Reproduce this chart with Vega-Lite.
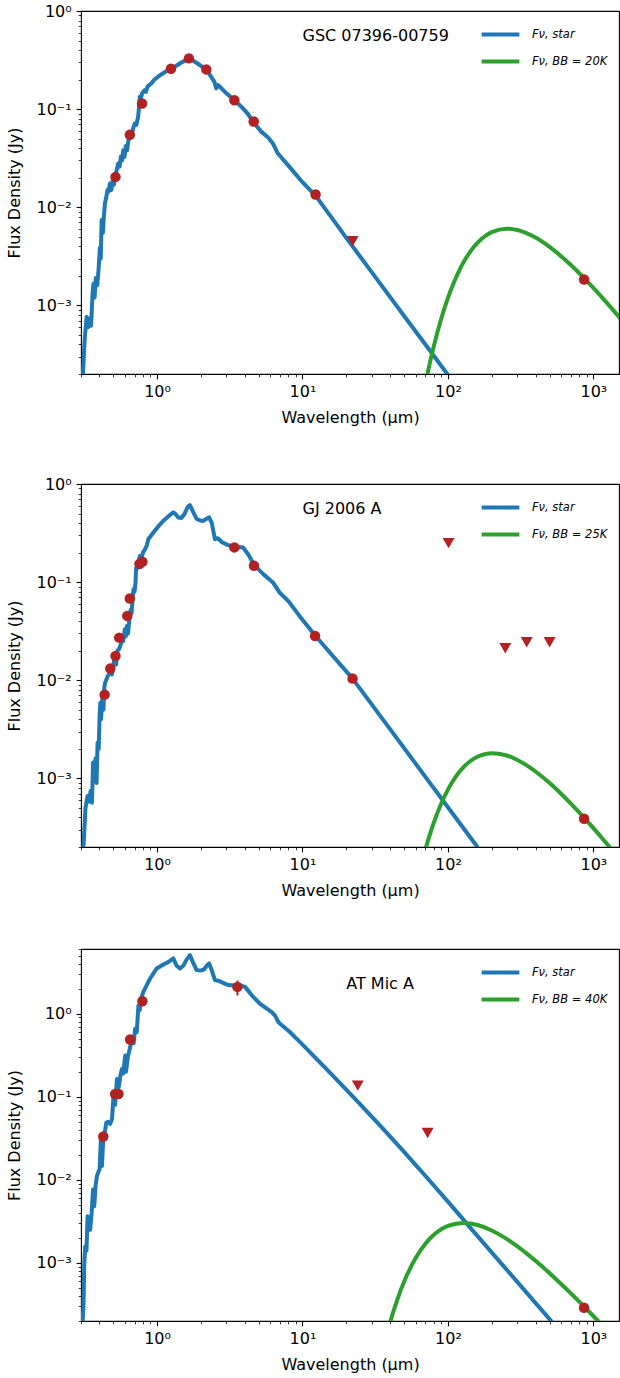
{
  "$schema": "https://vega.github.io/schema/vega-lite/v6.json",
  "padding": {"left": 6, "top": 2, "right": 0, "bottom": 0},
  "spacing": 48,
  "resolve": {"scale": {"color": "independent"}, "legend": {"color": "independent"}},
  "config": {
    "font": "DejaVu Sans",
    "view": {"stroke": "black", "strokeWidth": 1.1},
    "axis": {"grid": false, "domain": false, "tickColor": "black", "labelColor": "black", "titleColor": "black",
             "labelFont": "DejaVu Sans", "titleFont": "DejaVu Sans", "labelFontSize": 16, "titleFontSize": 16,
             "titleFontWeight": "normal", "tickWidth": 1.1, "labelPadding": 4.9},
    "axisX": {"titlePadding": 10},
    "axisY": {"titlePadding": 13},
    "legend": {"labelFont": "DejaVu Sans", "labelFontSize": 11.5, "labelFontStyle": "italic", "labelColor": "black",
               "symbolType": "M-1.4,0H1.4", "symbolSize": 725, "symbolStrokeWidth": 4, "orient": "none", "legendX": 404, "legendY": 8,
               "padding": 0, "rowPadding": 3, "labelOffset": 16}
  },
  "datasets": {
    "star": [
      {"p":1,"wl":0.305,"flux":0.00013},{"p":1,"wl":0.318,"flux":0.00045},{"p":1,"wl":0.328,"flux":0.00076},{"p":1,"wl":0.336,"flux":0.0006},
      {"p":1,"wl":0.345,"flux":0.00074},{"p":1,"wl":0.352,"flux":0.00062},{"p":1,"wl":0.36,"flux":0.0013},{"p":1,"wl":0.365,"flux":0.00166},
      {"p":1,"wl":0.372,"flux":0.0012},{"p":1,"wl":0.379,"flux":0.0019},{"p":1,"wl":0.388,"flux":0.0016},{"p":1,"wl":0.396,"flux":0.0023},
      {"p":1,"wl":0.405,"flux":0.0039},{"p":1,"wl":0.41,"flux":0.003},{"p":1,"wl":0.416,"flux":0.0074},{"p":1,"wl":0.424,"flux":0.0055},
      {"p":1,"wl":0.432,"flux":0.0085},{"p":1,"wl":0.438,"flux":0.0109},{"p":1,"wl":0.447,"flux":0.0125},{"p":1,"wl":0.456,"flux":0.015},
      {"p":1,"wl":0.465,"flux":0.0145},{"p":1,"wl":0.474,"flux":0.0175},{"p":1,"wl":0.485,"flux":0.015},{"p":1,"wl":0.494,"flux":0.0185},
      {"p":1,"wl":0.505,"flux":0.017},{"p":1,"wl":0.515,"flux":0.0205},{"p":1,"wl":0.528,"flux":0.024},{"p":1,"wl":0.541,"flux":0.0279},
      {"p":1,"wl":0.553,"flux":0.026},{"p":1,"wl":0.565,"flux":0.033},{"p":1,"wl":0.575,"flux":0.03},{"p":1,"wl":0.585,"flux":0.038},
      {"p":1,"wl":0.597,"flux":0.0326},{"p":1,"wl":0.61,"flux":0.042},{"p":1,"wl":0.622,"flux":0.038},{"p":1,"wl":0.635,"flux":0.048},
      {"p":1,"wl":0.65,"flux":0.052},{"p":1,"wl":0.667,"flux":0.052},{"p":1,"wl":0.685,"flux":0.064},{"p":1,"wl":0.703,"flux":0.0714},
      {"p":1,"wl":0.72,"flux":0.069},{"p":1,"wl":0.741,"flux":0.0835},{"p":1,"wl":0.752,"flux":0.105},{"p":1,"wl":0.761,"flux":0.134},
      {"p":1,"wl":0.775,"flux":0.13},{"p":1,"wl":0.79,"flux":0.145},{"p":1,"wl":0.805,"flux":0.15},{"p":1,"wl":0.824,"flux":0.156},
      {"p":1,"wl":0.84,"flux":0.15},{"p":1,"wl":0.86,"flux":0.17},{"p":1,"wl":0.914,"flux":0.183},{"p":1,"wl":0.96,"flux":0.2},
      {"p":1,"wl":1.016,"flux":0.214},{"p":1,"wl":1.1,"flux":0.232},{"p":1,"wl":1.18,"flux":0.248},{"p":1,"wl":1.247,"flux":0.258},
      {"p":1,"wl":1.35,"flux":0.275},{"p":1,"wl":1.45,"flux":0.295},{"p":1,"wl":1.56,"flux":0.312},{"p":1,"wl":1.656,"flux":0.33},
      {"p":1,"wl":1.75,"flux":0.315},{"p":1,"wl":1.91,"flux":0.29},{"p":1,"wl":2.05,"flux":0.27},{"p":1,"wl":2.2,"flux":0.252},
      {"p":1,"wl":2.35,"flux":0.214},{"p":1,"wl":2.48,"flux":0.19},{"p":1,"wl":2.55,"flux":0.163},{"p":1,"wl":2.62,"flux":0.176},
      {"p":1,"wl":2.75,"flux":0.165},{"p":1,"wl":3.0,"flux":0.145},{"p":1,"wl":3.4,"flux":0.123},{"p":1,"wl":3.8,"flux":0.106},
      {"p":1,"wl":4.2,"flux":0.09},{"p":1,"wl":4.62,"flux":0.073},{"p":1,"wl":5.2,"flux":0.059},{"p":1,"wl":5.8,"flux":0.0515},
      {"p":1,"wl":6.26,"flux":0.0447},{"p":1,"wl":6.77,"flux":0.0353},{"p":1,"wl":8.0,"flux":0.0266},{"p":1,"wl":10.0,"flux":0.018},
      {"p":1,"wl":12.4,"flux":0.0129},{"p":1,"wl":16.0,"flux":0.0077},{"p":1,"wl":20.0,"flux":0.00488},{"p":1,"wl":30.0,"flux":0.00217},
      {"p":1,"wl":50.0,"flux":0.000781},{"p":1,"wl":70.0,"flux":0.000399},{"p":1,"wl":110.0,"flux":0.000162},

      {"p":2,"wl":0.305,"flux":0.00013},{"p":2,"wl":0.313,"flux":0.00022},{"p":2,"wl":0.322,"flux":0.0005},{"p":2,"wl":0.333,"flux":0.00066},
      {"p":2,"wl":0.34,"flux":0.00058},{"p":2,"wl":0.35,"flux":0.00075},{"p":2,"wl":0.357,"flux":0.000565},{"p":2,"wl":0.363,"flux":0.00145},
      {"p":2,"wl":0.37,"flux":0.0011},{"p":2,"wl":0.378,"flux":0.0016},{"p":2,"wl":0.384,"flux":0.0009},{"p":2,"wl":0.39,"flux":0.00231},
      {"p":2,"wl":0.397,"flux":0.002},{"p":2,"wl":0.403,"flux":0.0045},{"p":2,"wl":0.407,"flux":0.0059},{"p":2,"wl":0.412,"flux":0.004},
      {"p":2,"wl":0.42,"flux":0.0065},{"p":2,"wl":0.428,"flux":0.005},{"p":2,"wl":0.434,"flux":0.0085},{"p":2,"wl":0.44,"flux":0.0095},
      {"p":2,"wl":0.458,"flux":0.011},{"p":2,"wl":0.476,"flux":0.012},{"p":2,"wl":0.49,"flux":0.0115},{"p":2,"wl":0.503,"flux":0.015},
      {"p":2,"wl":0.515,"flux":0.0177},{"p":2,"wl":0.523,"flux":0.0145},{"p":2,"wl":0.535,"flux":0.02},{"p":2,"wl":0.55,"flux":0.021},
      {"p":2,"wl":0.562,"flux":0.023},{"p":2,"wl":0.573,"flux":0.0262},{"p":2,"wl":0.585,"flux":0.025},{"p":2,"wl":0.6,"flux":0.033},
      {"p":2,"wl":0.61,"flux":0.028},{"p":2,"wl":0.62,"flux":0.0358},{"p":2,"wl":0.632,"flux":0.03},{"p":2,"wl":0.645,"flux":0.042},
      {"p":2,"wl":0.658,"flux":0.052},{"p":2,"wl":0.668,"flux":0.048},{"p":2,"wl":0.68,"flux":0.07},{"p":2,"wl":0.689,"flux":0.0849},
      {"p":2,"wl":0.7,"flux":0.08},{"p":2,"wl":0.71,"flux":0.095},{"p":2,"wl":0.718,"flux":0.14},{"p":2,"wl":0.726,"flux":0.136},
      {"p":2,"wl":0.74,"flux":0.16},{"p":2,"wl":0.765,"flux":0.186},{"p":2,"wl":0.78,"flux":0.17},{"p":2,"wl":0.8,"flux":0.2},
      {"p":2,"wl":0.825,"flux":0.215},{"p":2,"wl":0.85,"flux":0.235},{"p":2,"wl":0.872,"flux":0.275},{"p":2,"wl":0.944,"flux":0.321},
      {"p":2,"wl":1.02,"flux":0.37},{"p":2,"wl":1.105,"flux":0.422},{"p":2,"wl":1.2,"flux":0.47},{"p":2,"wl":1.294,"flux":0.514},
      {"p":2,"wl":1.33,"flux":0.5},{"p":2,"wl":1.4,"flux":0.455},{"p":2,"wl":1.47,"flux":0.45},{"p":2,"wl":1.55,"flux":0.5},
      {"p":2,"wl":1.62,"flux":0.58},{"p":2,"wl":1.682,"flux":0.61},{"p":2,"wl":1.75,"flux":0.54},{"p":2,"wl":1.87,"flux":0.44},
      {"p":2,"wl":1.98,"flux":0.425},{"p":2,"wl":2.08,"flux":0.42},{"p":2,"wl":2.2,"flux":0.445},{"p":2,"wl":2.28,"flux":0.457},
      {"p":2,"wl":2.38,"flux":0.4},{"p":2,"wl":2.5,"flux":0.275},{"p":2,"wl":2.62,"flux":0.28},{"p":2,"wl":2.8,"flux":0.255},
      {"p":2,"wl":3.05,"flux":0.24},{"p":2,"wl":3.33,"flux":0.231},{"p":2,"wl":3.65,"flux":0.228},{"p":2,"wl":3.9,"flux":0.226},
      {"p":2,"wl":4.25,"flux":0.19},{"p":2,"wl":4.69,"flux":0.147},{"p":2,"wl":5.4,"flux":0.12},{"p":2,"wl":6.26,"flux":0.0993},
      {"p":2,"wl":6.95,"flux":0.0785},{"p":2,"wl":8.0,"flux":0.064},{"p":2,"wl":9.53,"flux":0.0453},{"p":2,"wl":12.3,"flux":0.0283},
      {"p":2,"wl":16.0,"flux":0.018},{"p":2,"wl":22.1,"flux":0.0104},{"p":2,"wl":40.0,"flux":0.003175},{"p":2,"wl":70.0,"flux":0.001037},
      {"p":2,"wl":100.0,"flux":0.000508},{"p":2,"wl":175.0,"flux":0.000166},

      {"p":3,"wl":0.305,"flux":0.00015},{"p":3,"wl":0.312,"flux":0.0003},{"p":3,"wl":0.316,"flux":0.001},{"p":3,"wl":0.321,"flux":0.00158},
      {"p":3,"wl":0.327,"flux":0.0014},{"p":3,"wl":0.333,"flux":0.00364},{"p":3,"wl":0.34,"flux":0.0029},{"p":3,"wl":0.347,"flux":0.00251},
      {"p":3,"wl":0.355,"flux":0.004},{"p":3,"wl":0.363,"flux":0.00765},{"p":3,"wl":0.37,"flux":0.0048},{"p":3,"wl":0.378,"flux":0.0085},
      {"p":3,"wl":0.386,"flux":0.0111},{"p":3,"wl":0.395,"flux":0.0125},{"p":3,"wl":0.403,"flux":0.0134},{"p":3,"wl":0.411,"flux":0.0308},
      {"p":3,"wl":0.418,"flux":0.0147},{"p":3,"wl":0.426,"flux":0.03},{"p":3,"wl":0.44,"flux":0.04},{"p":3,"wl":0.448,"flux":0.049},
      {"p":3,"wl":0.46,"flux":0.05},{"p":3,"wl":0.475,"flux":0.047},{"p":3,"wl":0.49,"flux":0.0537},{"p":3,"wl":0.502,"flux":0.103},
      {"p":3,"wl":0.515,"flux":0.08},{"p":3,"wl":0.53,"flux":0.164},{"p":3,"wl":0.545,"flux":0.13},{"p":3,"wl":0.56,"flux":0.18},
      {"p":3,"wl":0.573,"flux":0.216},{"p":3,"wl":0.585,"flux":0.19},{"p":3,"wl":0.604,"flux":0.313},{"p":3,"wl":0.612,"flux":0.2},
      {"p":3,"wl":0.63,"flux":0.3},{"p":3,"wl":0.65,"flux":0.38},{"p":3,"wl":0.671,"flux":0.499},{"p":3,"wl":0.69,"flux":0.44},
      {"p":3,"wl":0.707,"flux":0.659},{"p":3,"wl":0.725,"flux":0.6},{"p":3,"wl":0.745,"flux":1.26},{"p":3,"wl":0.76,"flux":1.1},
      {"p":3,"wl":0.78,"flux":1.55},{"p":3,"wl":0.805,"flux":1.83},{"p":3,"wl":0.85,"flux":2.2},{"p":3,"wl":0.896,"flux":2.65},
      {"p":3,"wl":0.995,"flux":3.5},{"p":3,"wl":1.105,"flux":3.91},{"p":3,"wl":1.2,"flux":4.2},{"p":3,"wl":1.294,"flux":4.62},
      {"p":3,"wl":1.36,"flux":3.8},{"p":3,"wl":1.438,"flux":3.5},{"p":3,"wl":1.52,"flux":3.8},{"p":3,"wl":1.6,"flux":4.5},
      {"p":3,"wl":1.682,"flux":5.07},{"p":3,"wl":1.76,"flux":4.2},{"p":3,"wl":1.87,"flux":3.34},{"p":3,"wl":1.98,"flux":3.3},
      {"p":3,"wl":2.1,"flux":3.4},{"p":3,"wl":2.2,"flux":3.8},{"p":3,"wl":2.28,"flux":4.02},{"p":3,"wl":2.38,"flux":3.3},
      {"p":3,"wl":2.5,"flux":2.53},{"p":3,"wl":2.7,"flux":2.45},{"p":3,"wl":3.0,"flux":2.25},{"p":3,"wl":3.16,"flux":2.2},
      {"p":3,"wl":3.7,"flux":2.2},{"p":3,"wl":4.03,"flux":2.1},{"p":3,"wl":4.57,"flux":1.6},{"p":3,"wl":5.11,"flux":1.31},
      {"p":3,"wl":6.15,"flux":1.04},{"p":3,"wl":6.48,"flux":0.946},{"p":3,"wl":6.83,"flux":0.788},{"p":3,"wl":8.22,"flux":0.597},
      {"p":3,"wl":9.89,"flux":0.432},{"p":3,"wl":11.6,"flux":0.325},{"p":3,"wl":15.5,"flux":0.194},{"p":3,"wl":23.6,"flux":0.0897},
      {"p":3,"wl":34.2,"flux":0.0448},{"p":3,"wl":49.4,"flux":0.0221},{"p":3,"wl":71.6,"flux":0.01067},{"p":3,"wl":103.5,"flux":0.0051},
      {"p":3,"wl":149.7,"flux":0.0024},{"p":3,"wl":540.0,"flux":0.00018}
    ],
    "bb": [
      {"p":1,"wl":68,"flux":0.000128},{"p":1,"wl":72,"flux":0.0001945},{"p":1,"wl":80,"flux":0.000385},{"p":1,"wl":90,"flux":0.000735},
      {"p":1,"wl":100,"flux":0.001192},{"p":1,"wl":110,"flux":0.001724},{"p":1,"wl":120,"flux":0.002293},{"p":1,"wl":130,"flux":0.002863},
      {"p":1,"wl":150,"flux":0.003915},{"p":1,"wl":170,"flux":0.004758},{"p":1,"wl":200,"flux":0.005587},{"p":1,"wl":255,"flux":0.006055},
      {"p":1,"wl":300,"flux":0.005874},{"p":1,"wl":400,"flux":0.004917},{"p":1,"wl":500,"flux":0.003946},{"p":1,"wl":700,"flux":0.002577},
      {"p":1,"wl":900,"flux":0.001777},{"p":1,"wl":1200,"flux":0.001118},{"p":1,"wl":1600,"flux":0.000682},

      {"p":2,"wl":65,"flux":0.0001259},{"p":2,"wl":70,"flux":0.0001898},{"p":2,"wl":80,"flux":0.0003555},{"p":2,"wl":90,"flux":0.0005559},
      {"p":2,"wl":100,"flux":0.000769},{"p":2,"wl":110,"flux":0.000977},{"p":2,"wl":120,"flux":0.001167},{"p":2,"wl":130,"flux":0.001333},
      {"p":2,"wl":150,"flux":0.001581},{"p":2,"wl":170,"flux":0.001728},{"p":2,"wl":200,"flux":0.001805},{"p":2,"wl":250,"flux":0.001723},
      {"p":2,"wl":300,"flux":0.001543},{"p":2,"wl":400,"flux":0.001176},{"p":2,"wl":500,"flux":0.000896},{"p":2,"wl":700,"flux":0.000553},
      {"p":2,"wl":900,"flux":0.000371},{"p":2,"wl":1200,"flux":0.0002276},{"p":2,"wl":1400,"flux":0.0001735},

      {"p":3,"wl":36,"flux":0.0000973},{"p":3,"wl":40,"flux":0.0001926},{"p":3,"wl":45,"flux":0.0003676},{"p":3,"wl":50,"flux":0.0005962},
      {"p":3,"wl":55,"flux":0.000862},{"p":3,"wl":60,"flux":0.001146},{"p":3,"wl":70,"flux":0.001705},{"p":3,"wl":80,"flux":0.002183},
      {"p":3,"wl":90,"flux":0.002546},{"p":3,"wl":100,"flux":0.002793},{"p":3,"wl":128,"flux":0.003028},{"p":3,"wl":160,"flux":0.002857},
      {"p":3,"wl":200,"flux":0.002458},{"p":3,"wl":250,"flux":0.001973},{"p":3,"wl":300,"flux":0.001585},{"p":3,"wl":400,"flux":0.001063},
      {"p":3,"wl":500,"flux":0.000753},{"p":3,"wl":700,"flux":0.00043},{"p":3,"wl":900,"flux":0.0002768},{"p":3,"wl":1200,"flux":0.0001641}
    ],
    "det": [
      {"p":1,"wl":0.518,"flux":0.0204},{"p":1,"wl":0.65,"flux":0.0547},{"p":1,"wl":0.789,"flux":0.114},{"p":1,"wl":1.247,"flux":0.258},
      {"p":1,"wl":1.656,"flux":0.329},{"p":1,"wl":2.18,"flux":0.254},{"p":1,"wl":3.4,"flux":0.123},{"p":1,"wl":4.62,"flux":0.0748},
      {"p":1,"wl":12.3,"flux":0.0135},{"p":1,"wl":863,"flux":0.00184},
      {"p":2,"wl":0.436,"flux":0.00714},{"p":2,"wl":0.477,"flux":0.0132},{"p":2,"wl":0.518,"flux":0.0177},{"p":2,"wl":0.549,"flux":0.0272},
      {"p":2,"wl":0.624,"flux":0.0453},{"p":2,"wl":0.65,"flux":0.068},{"p":2,"wl":0.757,"flux":0.153},{"p":2,"wl":0.793,"flux":0.161},
      {"p":2,"wl":3.4,"flux":0.226},{"p":2,"wl":4.64,"flux":0.147},{"p":2,"wl":12.2,"flux":0.0283},{"p":2,"wl":22.1,"flux":0.0104},
      {"p":2,"wl":863,"flux":0.000388},
      {"p":3,"wl":0.427,"flux":0.0332},{"p":3,"wl":0.515,"flux":0.108},{"p":3,"wl":0.543,"flux":0.108},{"p":3,"wl":0.653,"flux":0.489},
      {"p":3,"wl":0.793,"flux":1.41},{"p":3,"wl":3.57,"flux":2.1},{"p":3,"wl":863,"flux":0.000289}
    ],
    "ul": [
      {"p":1,"wl":22.1,"flux":0.0045},
      {"p":2,"wl":101,"flux":0.25},{"p":2,"wl":248,"flux":0.0212},{"p":2,"wl":348,"flux":0.0244},{"p":2,"wl":500,"flux":0.0244},
      {"p":3,"wl":24.0,"flux":0.136},{"p":3,"wl":72.5,"flux":0.0366}
    ],
    "err": [
      {"p":3,"wl":3.57,"lo":1.66,"hi":2.5}
    ],
    "lab": [
      {"p":1,"wl":10,"flux":0.5,"text":"GSC 07396-00759"},
      {"p":2,"wl":10,"flux":0.5,"text":"GJ 2006 A"},
      {"p":3,"wl":20,"flux":2,"text":"AT Mic A"}
    ]
  },
  "vconcat": [
    {
      "width": 538, "height": 363,
      "resolve": {"axis": {"x": "independent", "y": "independent"}},
      "layer": [
        {"data": {"name": "star"}, "transform": [{"filter": "datum.p == 1"}],
         "mark": {"type": "line", "clip": true, "strokeWidth": 4, "strokeJoin": "round"},
         "encoding": {
           "x": {"field": "wl", "type": "quantitative", "scale": {"type": "log", "domain": [0.3, 1500], "nice": false},
                 "axis": {"orient": "bottom", "values": [1, 10, 100, 1000], "tickSize": 4.9, "title": "Wavelength (μm)",
                          "labelExpr": "datum.value >= 500 ? '10³' : datum.value >= 50 ? '10²' : datum.value >= 5 ? '10¹' : '10⁰'"}},
           "y": {"field": "flux", "type": "quantitative", "scale": {"type": "log", "domain": [0.0002, 1], "nice": false},
                 "axis": {"orient": "left", "values": [0.001, 0.01, 0.1, 1], "tickSize": 4.9, "title": "Flux Density (Jy)",
                          "labelExpr": "datum.value >= 0.5 ? '10⁰' : datum.value >= 0.05 ? '10⁻¹' : datum.value >= 0.005 ? '10⁻²' : '10⁻³'"}},
           "color": {"datum": "Fν, star", "type": "nominal",
                     "scale": {"domain": ["Fν, star", "Fν, BB = 20K"], "range": ["#1f77b4", "#2ca02c"]},
                     "legend": {"title": null}}
         }},
        {"data": {"name": "bb"}, "transform": [{"filter": "datum.p == 1"}],
         "mark": {"type": "line", "clip": true, "strokeWidth": 4, "interpolate": "monotone"},
         "encoding": {
           "x": {"field": "wl", "type": "quantitative",
                 "axis": {"orient": "bottom", "values": [0.3,0.4,0.5,0.6,0.7,0.8,0.9,2,3,4,5,6,7,8,9,20,30,40,50,60,70,80,90,200,300,400,500,600,700,800,900],
                          "labels": false, "title": null, "tickSize": 2.8, "tickWidth": 0.8}},
           "y": {"field": "flux", "type": "quantitative",
                 "axis": {"orient": "left", "values": [0.0002,0.0003,0.0004,0.0005,0.0006,0.0007,0.0008,0.0009,0.002,0.003,0.004,0.005,0.006,0.007,0.008,0.009,0.02,0.03,0.04,0.05,0.06,0.07,0.08,0.09,0.2,0.3,0.4,0.5,0.6,0.7,0.8,0.9],
                          "labels": false, "title": null, "tickSize": 2.8, "tickWidth": 0.8}},
           "color": {"datum": "Fν, BB = 20K", "type": "nominal"}
         }},
        {"data": {"name": "det"}, "transform": [{"filter": "datum.p == 1"}],
         "mark": {"type": "point", "shape": "circle", "filled": true, "size": 110, "color": "#b22222", "opacity": 1, "clip": true},
         "encoding": {"x": {"field": "wl", "type": "quantitative", "axis": null}, "y": {"field": "flux", "type": "quantitative", "axis": null}}},
        {"data": {"name": "ul"}, "transform": [{"filter": "datum.p == 1"}],
         "mark": {"type": "point", "shape": "triangle-down", "filled": true, "size": 144, "color": "#b22222", "opacity": 1, "clip": true},
         "encoding": {"x": {"field": "wl", "type": "quantitative", "axis": null}, "y": {"field": "flux", "type": "quantitative", "axis": null}}},
        {"data": {"name": "lab"}, "transform": [{"filter": "datum.p == 1"}],
         "mark": {"type": "text", "align": "left", "baseline": "alphabetic", "fontSize": 16, "font": "DejaVu Sans", "color": "black"},
         "encoding": {"x": {"field": "wl", "type": "quantitative", "axis": null}, "y": {"field": "flux", "type": "quantitative", "axis": null}, "text": {"field": "text"}}}
      ]
    },
    {
      "width": 538, "height": 363,
      "resolve": {"axis": {"x": "independent", "y": "independent"}},
      "layer": [
        {"data": {"name": "star"}, "transform": [{"filter": "datum.p == 2"}],
         "mark": {"type": "line", "clip": true, "strokeWidth": 4, "strokeJoin": "round"},
         "encoding": {
           "x": {"field": "wl", "type": "quantitative", "scale": {"type": "log", "domain": [0.3, 1500], "nice": false},
                 "axis": {"orient": "bottom", "values": [1, 10, 100, 1000], "tickSize": 4.9, "title": "Wavelength (μm)",
                          "labelExpr": "datum.value >= 500 ? '10³' : datum.value >= 50 ? '10²' : datum.value >= 5 ? '10¹' : '10⁰'"}},
           "y": {"field": "flux", "type": "quantitative", "scale": {"type": "log", "domain": [0.0002, 1], "nice": false},
                 "axis": {"orient": "left", "values": [0.001, 0.01, 0.1, 1], "tickSize": 4.9, "title": "Flux Density (Jy)",
                          "labelExpr": "datum.value >= 0.5 ? '10⁰' : datum.value >= 0.05 ? '10⁻¹' : datum.value >= 0.005 ? '10⁻²' : '10⁻³'"}},
           "color": {"datum": "Fν, star", "type": "nominal",
                     "scale": {"domain": ["Fν, star", "Fν, BB = 25K"], "range": ["#1f77b4", "#2ca02c"]},
                     "legend": {"title": null}}
         }},
        {"data": {"name": "bb"}, "transform": [{"filter": "datum.p == 2"}],
         "mark": {"type": "line", "clip": true, "strokeWidth": 4, "interpolate": "monotone"},
         "encoding": {
           "x": {"field": "wl", "type": "quantitative",
                 "axis": {"orient": "bottom", "values": [0.3,0.4,0.5,0.6,0.7,0.8,0.9,2,3,4,5,6,7,8,9,20,30,40,50,60,70,80,90,200,300,400,500,600,700,800,900],
                          "labels": false, "title": null, "tickSize": 2.8, "tickWidth": 0.8}},
           "y": {"field": "flux", "type": "quantitative",
                 "axis": {"orient": "left", "values": [0.0002,0.0003,0.0004,0.0005,0.0006,0.0007,0.0008,0.0009,0.002,0.003,0.004,0.005,0.006,0.007,0.008,0.009,0.02,0.03,0.04,0.05,0.06,0.07,0.08,0.09,0.2,0.3,0.4,0.5,0.6,0.7,0.8,0.9],
                          "labels": false, "title": null, "tickSize": 2.8, "tickWidth": 0.8}},
           "color": {"datum": "Fν, BB = 25K", "type": "nominal"}
         }},
        {"data": {"name": "det"}, "transform": [{"filter": "datum.p == 2"}],
         "mark": {"type": "point", "shape": "circle", "filled": true, "size": 110, "color": "#b22222", "opacity": 1, "clip": true},
         "encoding": {"x": {"field": "wl", "type": "quantitative", "axis": null}, "y": {"field": "flux", "type": "quantitative", "axis": null}}},
        {"data": {"name": "ul"}, "transform": [{"filter": "datum.p == 2"}],
         "mark": {"type": "point", "shape": "triangle-down", "filled": true, "size": 144, "color": "#b22222", "opacity": 1, "clip": true},
         "encoding": {"x": {"field": "wl", "type": "quantitative", "axis": null}, "y": {"field": "flux", "type": "quantitative", "axis": null}}},
        {"data": {"name": "lab"}, "transform": [{"filter": "datum.p == 2"}],
         "mark": {"type": "text", "align": "left", "baseline": "alphabetic", "fontSize": 16, "font": "DejaVu Sans", "color": "black"},
         "encoding": {"x": {"field": "wl", "type": "quantitative", "axis": null}, "y": {"field": "flux", "type": "quantitative", "axis": null}, "text": {"field": "text"}}}
      ]
    },
    {
      "width": 538, "height": 372,
      "resolve": {"axis": {"x": "independent", "y": "independent"}},
      "layer": [
        {"data": {"name": "star"}, "transform": [{"filter": "datum.p == 3"}],
         "mark": {"type": "line", "clip": true, "strokeWidth": 4, "strokeJoin": "round"},
         "encoding": {
           "x": {"field": "wl", "type": "quantitative", "scale": {"type": "log", "domain": [0.3, 1500], "nice": false},
                 "axis": {"orient": "bottom", "values": [1, 10, 100, 1000], "tickSize": 4.9, "title": "Wavelength (μm)",
                          "labelExpr": "datum.value >= 500 ? '10³' : datum.value >= 50 ? '10²' : datum.value >= 5 ? '10¹' : '10⁰'"}},
           "y": {"field": "flux", "type": "quantitative", "scale": {"type": "log", "domain": [0.0002, 6], "nice": false},
                 "axis": {"orient": "left", "values": [0.001, 0.01, 0.1, 1], "tickSize": 4.9, "title": "Flux Density (Jy)",
                          "labelExpr": "datum.value >= 0.5 ? '10⁰' : datum.value >= 0.05 ? '10⁻¹' : datum.value >= 0.005 ? '10⁻²' : '10⁻³'"}},
           "color": {"datum": "Fν, star", "type": "nominal",
                     "scale": {"domain": ["Fν, star", "Fν, BB = 40K"], "range": ["#1f77b4", "#2ca02c"]},
                     "legend": {"title": null}}
         }},
        {"data": {"name": "bb"}, "transform": [{"filter": "datum.p == 3"}],
         "mark": {"type": "line", "clip": true, "strokeWidth": 4, "interpolate": "monotone"},
         "encoding": {
           "x": {"field": "wl", "type": "quantitative",
                 "axis": {"orient": "bottom", "values": [0.3,0.4,0.5,0.6,0.7,0.8,0.9,2,3,4,5,6,7,8,9,20,30,40,50,60,70,80,90,200,300,400,500,600,700,800,900],
                          "labels": false, "title": null, "tickSize": 2.8, "tickWidth": 0.8}},
           "y": {"field": "flux", "type": "quantitative",
                 "axis": {"orient": "left", "values": [0.0002,0.0003,0.0004,0.0005,0.0006,0.0007,0.0008,0.0009,0.002,0.003,0.004,0.005,0.006,0.007,0.008,0.009,0.02,0.03,0.04,0.05,0.06,0.07,0.08,0.09,0.2,0.3,0.4,0.5,0.6,0.7,0.8,0.9,2,3,4,5,6],
                          "labels": false, "title": null, "tickSize": 2.8, "tickWidth": 0.8}},
           "color": {"datum": "Fν, BB = 40K", "type": "nominal"}
         }},
        {"data": {"name": "err"}, "transform": [{"filter": "datum.p == 3"}],
         "mark": {"type": "rule", "color": "#b22222", "strokeWidth": 2},
         "encoding": {"x": {"field": "wl", "type": "quantitative", "axis": null}, "y": {"field": "lo", "type": "quantitative", "axis": null}, "y2": {"field": "hi"}}},
        {"data": {"name": "det"}, "transform": [{"filter": "datum.p == 3"}],
         "mark": {"type": "point", "shape": "circle", "filled": true, "size": 110, "color": "#b22222", "opacity": 1, "clip": true},
         "encoding": {"x": {"field": "wl", "type": "quantitative", "axis": null}, "y": {"field": "flux", "type": "quantitative", "axis": null}}},
        {"data": {"name": "ul"}, "transform": [{"filter": "datum.p == 3"}],
         "mark": {"type": "point", "shape": "triangle-down", "filled": true, "size": 144, "color": "#b22222", "opacity": 1, "clip": true},
         "encoding": {"x": {"field": "wl", "type": "quantitative", "axis": null}, "y": {"field": "flux", "type": "quantitative", "axis": null}}},
        {"data": {"name": "lab"}, "transform": [{"filter": "datum.p == 3"}],
         "mark": {"type": "text", "align": "left", "baseline": "alphabetic", "fontSize": 16, "font": "DejaVu Sans", "color": "black"},
         "encoding": {"x": {"field": "wl", "type": "quantitative", "axis": null}, "y": {"field": "flux", "type": "quantitative", "axis": null}, "text": {"field": "text"}}}
      ]
    }
  ]
}
